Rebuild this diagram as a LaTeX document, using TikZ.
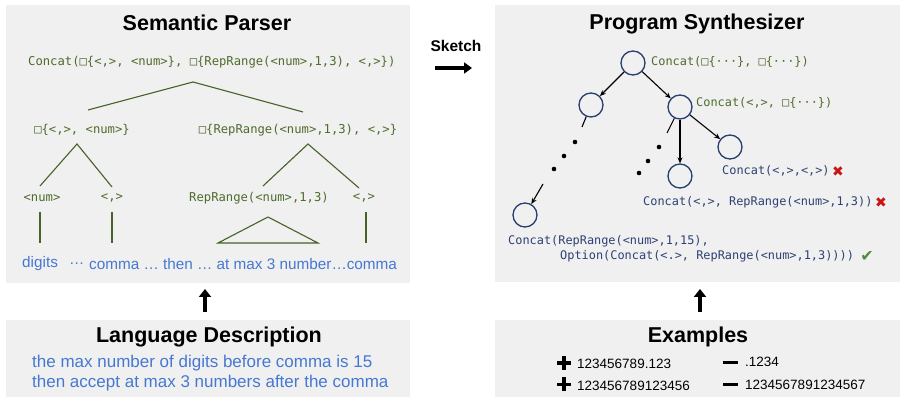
\documentclass[tikz,border=0pt]{standalone}
\usepackage{fontspec}
\setmainfont{Liberation Sans}
\newfontfamily\mono{DejaVu Sans Mono}
\newfontfamily\sym{DejaVu Sans}
\usetikzlibrary{arrows.meta}
\definecolor{panelbg}{RGB}{240,240,240}
\definecolor{tgreen}{RGB}{78,108,44}
\definecolor{lgreen}{RGB}{70,98,40}
\definecolor{tblue}{RGB}{70,120,210}
\definecolor{cblue}{RGB}{40,62,112}
\definecolor{tdark}{RGB}{45,65,115}
\definecolor{xred}{RGB}{200,20,20}
\definecolor{okgreen}{RGB}{80,140,60}
\newcommand{\plussign}{\makebox[0pt]{\rule[-1.8pt]{14pt}{3.6pt}}\makebox[0pt]{\rule[-7pt]{3.6pt}{14pt}}}
\newcommand{\minussign}{\makebox[0pt]{\rule[-1.8pt]{15pt}{3.6pt}}}
\tikzset{
  panel/.style={fill=panelbg, draw=none, inner sep=0pt},
  title/.style={font=\bfseries\fontsize{21.5}{24}\selectfont, inner sep=0pt},
  ltree/.style={font=\mono\fontsize{12.2}{14}\selectfont, text=tgreen, inner sep=0pt},
  rtree/.style={font=\mono\fontsize{11.9}{14}\selectfont, inner sep=0pt},
  leaf/.style={font=\fontsize{15.3}{18}\selectfont, text=tblue, inner sep=0pt, anchor=west},
  desc/.style={font=\fontsize{17}{20}\selectfont, text=tblue, inner sep=0pt, anchor=west},
  exmp/.style={font=\fontsize{13.5}{16}\selectfont, inner sep=0pt, anchor=west},
  sgn/.style={inner sep=0pt},
  tline/.style={draw=lgreen, line width=1.1pt},
  snode/.style={circle, draw=cblue, line width=1.3pt, minimum size=24pt, inner sep=0pt},
  sedge/.style={draw=black, line width=1.1pt, -{Stealth[length=6pt,width=5pt]}},
  sstub/.style={draw=black, line width=1.1pt},
  bigarrow/.style={draw=black, line width=3.6pt, -{Triangle[length=8pt,width=12pt]}},
  xmarkstyle/.style={font=\sym\fontsize{14}{14}\selectfont, inner sep=0pt},
}
\begin{document}
\begin{tikzpicture}[x=1pt,y=-1pt]
\useasboundingbox (0,0) rectangle (906,403);
% panels
\node[panel, minimum width=404pt, minimum height=278pt] (parser) at (208,144) {};
\node[panel, minimum width=405pt, minimum height=277pt] (synth) at (697.5,143.5) {};
\node[panel, minimum width=404pt, minimum height=77pt] (lang) at (208,358.5) {};
\node[panel, minimum width=405pt, minimum height=77pt] (examples) at (697.5,358.5) {};
% titles
\node[title] (tparser) at (207,23) {Semantic Parser};
\node[title] (tsynth) at (697,24) {Program Synthesizer};
\node[title] (tlang) at (209,337) {Language Description};
\node[title] (texamples) at (698,337) {Examples};
% sketch
\node[font=\bfseries\fontsize{15.5}{18}\selectfont, inner sep=0pt] (sketch) at (456,46) {Sketch};
\coordinate (sk1) at (435,68);
\coordinate (sk2) at (472,68);
\draw[bigarrow, -{Triangle[length=8pt,width=11pt]}, line width=3.4pt] (sk1) -- (sk2);
% up arrows
\coordinate (ua1) at (205,312);
\coordinate (ub1) at (205,289);
\coordinate (ua2) at (700,312);
\coordinate (ub2) at (700,289);
\draw[bigarrow] (ua1) -- (ub1);
\draw[bigarrow] (ua2) -- (ub2);

% ---------- left tree ----------
\node[ltree, anchor=west] (root) at (28,62) {Concat(□\{<,>, <num>\}, □\{RepRange(<num>,1,3), <,>\})};
\node[ltree] (la) at (82,130) {□\{<,>, <num>\}};
\node[ltree] (lb) at (298,130) {□\{RepRange(<num>,1,3), <,>\}};
\node[ltree] (lnum) at (42,198) {<num>};
\node[ltree] (lc1) at (112,198) {<,>};
\node[ltree] (lrep) at (259,198) {RepRange(<num>,1,3)};
\node[ltree] (lc2) at (364,198) {<,>};
\coordinate (r0) at (193,82);
\coordinate (r1) at (88,110);
\coordinate (r2) at (303,112);
\coordinate (a0) at (77,144);
\coordinate (a1) at (40,186);
\coordinate (a2) at (112,187);
\coordinate (b0) at (308,144);
\coordinate (b1) at (263,186);
\coordinate (b2) at (359,188);
\draw[tline] (r1) -- (r0) -- (r2);
\draw[tline] (a1) -- (a0) -- (a2);
\draw[tline] (b1) -- (b0) -- (b2);
\coordinate (v1t) at (40,212); \coordinate (v1b) at (40,243);
\coordinate (v2t) at (112,212); \coordinate (v2b) at (112,243);
\coordinate (v3t) at (366,212); \coordinate (v3b) at (366,243);
\draw[tline] (v1t) -- (v1b);
\draw[tline] (v2t) -- (v2b);
\draw[tline] (v3t) -- (v3b);
\coordinate (t0) at (268,217); \coordinate (t1) at (218,243); \coordinate (t2) at (318,243);
\draw[tline] (t0) -- (t1) -- (t2) -- cycle;
% leaves
\node[leaf] (w1) at (22,264) {digits};
\node[leaf] (w2) at (69,264) {…};
\node[leaf] (w3) at (89,264) {comma … then … at max 3 number…comma};

% ---------- language description ----------
\node[desc] (d1) at (32,363) {the max number of digits before comma is 15};
\node[desc] (d2) at (32,383) {then accept at max 3 numbers after the comma};

% ---------- examples ----------
\node[sgn] (p1) at (564,363) {\plussign};
\node[exmp] (e1) at (577,364) {123456789.123};
\node[sgn] (p2) at (564,384.5) {\plussign};
\node[exmp] (e2) at (577,386) {123456789123456};
\node[sgn] (m1) at (730.5,362.5) {\minussign};
\node[exmp] (e3) at (745,362) {.1234};
\node[sgn] (m2) at (730.5,384.5) {\minussign};
\node[exmp] (e4) at (745,385) {1234567891234567};

% ---------- right tree ----------
\node[snode] (c0) at (633,63) {};
\node[snode] (c1) at (591,105) {};
\node[snode] (c2) at (680,107) {};
\node[snode] (c3) at (680,176) {};
\node[snode] (c4) at (730,147) {};
\node[snode] (c5) at (525,215) {};
\draw[sedge] (c0) -- (c1);
\draw[sedge] (c0) -- (c2);
\draw[sedge] (c2) -- (c3);
\draw[sedge] (c2) -- (c4);
\coordinate (s1) at (582,127);
\coordinate (s2) at (667,133);
\coordinate (s3) at (543,184);
\draw[sstub] (c1) -- (s1);
\draw[sstub] (c2) -- (s2);
\draw[sedge] (s3) -- (c5);
\fill (575,142) circle (2.3pt) (564,156) circle (2.3pt) (554,169) circle (2.3pt);
\fill (659,147) circle (2.3pt) (648,161) circle (2.3pt) (639,173) circle (2.3pt);
\node[rtree, text=tgreen, anchor=west] (k0) at (651,62) {Concat(□\{···\}, □\{···\})};
\node[rtree, text=tgreen, anchor=west] (k2) at (696,103) {Concat(<,>, □\{···\})};
\node[rtree, text=tdark, anchor=west] (k4) at (722,171) {Concat(<,>,<,>)};
\node[xmarkstyle, text=xred] (x1) at (838,172) {✖};
\node[rtree, text=tdark, anchor=west] (k3) at (643,202) {Concat(<,>, RepRange(<num>,1,3))};
\node[xmarkstyle, text=xred] (x2) at (881,203) {✖};
\node[rtree, text=tdark, anchor=west] (k5a) at (508,241) {Concat(RepRange(<num>,1,15),};
\node[rtree, text=tdark, anchor=west] (k5b) at (560,256) {Option(Concat(<.>, RepRange(<num>,1,3))))};
\node[xmarkstyle, text=okgreen, font=\sym\fontsize{16}{16}\selectfont] (ok) at (867,256) {✔};
\end{tikzpicture}
\end{document}
